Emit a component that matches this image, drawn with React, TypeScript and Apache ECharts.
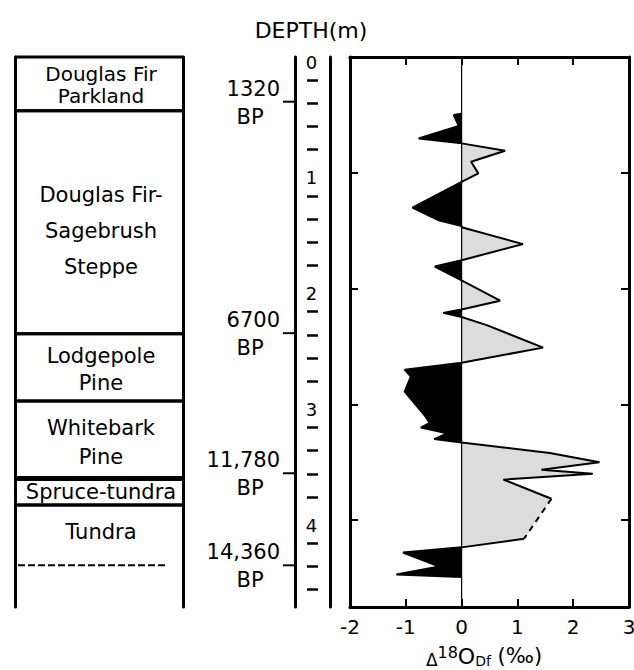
import React, { useEffect, useRef } from "react";
import * as echarts from "echarts";

// ---- Isotope curve (Δ18O_Df in ‰ versus depth in m) ----
const depthM = [
  0.489, 0.501, 0.596, 0.703, 0.746, 0.81, 0.905, 1.005, 1.078, 1.3, 1.41, 1.46,
  1.47, 1.616, 1.755, 1.81, 1.93, 2.105, 2.18, 2.21, 2.245, 2.316, 2.51, 2.64,
  2.7, 2.76, 2.89, 3.09, 3.16, 3.2, 3.25, 3.3, 3.33, 3.42, 3.5, 3.565, 3.6, 3.65,
  3.815, 4.16, 4.235, 4.28, 4.4, 4.47, 4.49,
];
const delta18O = [
  0, -0.14, -0.05, -0.77, 0, 0.78, 0.17, 0.3, 0, -0.88, -0.41, 0,
  0, 1.1, 0, -0.48, 0, 0.69, 0, -0.33, 0, 0.45, 1.46, 0,
  -1.02, -0.91, -1.02, -0.67, -0.57, -0.73, -0.26, -0.49, 0, 1.58, 2.47, 1.43, 2.35, 0.75,
  1.61, 1.12, 0, -1.05, -0.4, -1.17, 0,
];
// indices of the dashed (inferred) stretch of the curve
const dashedFrom = 38;
const dashedTo = 39;

// ---- Axis ranges ----
const deltaMin = -2;
const deltaMax = 3;
const depthMin = 0;
const depthMax = 4.75;

// ---- Depth scale labels ----
const depthLabels = [0, 1, 2, 3, 4];

// ---- Radiocarbon ages on the depth scale ----
const ageLabels = ["1320", "6700", "11,780", "14,360"];
const ageDepths = [0.386, 2.385, 3.595, 4.39];

// ---- Vegetation zones ----
const zoneNames = [
  "Douglas Fir\nParkland",
  "Douglas Fir-\nSagebrush\nSteppe",
  "Lodgepole\nPine",
  "Whitebark\nPine",
  "Spruce-tundra",
  "Tundra",
];
const zoneTop = [0, 0.465, 2.39, 2.97, 3.64, 3.87];
const zoneBottom = [0.465, 2.39, 2.97, 3.64, 3.87, 4.39];
const zoneDashedBottom = [false, false, false, false, false, true];

// styles (not data)
const zoneLineHeight = [22, 36, 27, 29, 22, 22];
const zoneTextNudge = [1, 9, 2, 3, 0, -3];
const FONT = "DejaVu Sans";
const INK = "#000";

type P = [number, number];

function buildFills(xs: number[], ys: number[]) {
  const polys: { pts: P[]; neg: boolean }[] = [];
  let cur: P[] = [];
  let sign = 0;
  const close = () => {
    if (cur.length >= 3 && sign !== 0) polys.push({ pts: cur, neg: sign < 0 });
  };
  for (let i = 0; i < xs.length; i++) {
    const x = xs[i];
    const y = ys[i];
    const s = Math.sign(x);
    if (i > 0) {
      const px = xs[i - 1];
      const py = ys[i - 1];
      const ps = Math.sign(px);
      if (ps !== 0 && s !== 0 && ps !== s) {
        const t = px / (px - x);
        const yc = py + t * (y - py);
        cur.push([0, yc]);
        close();
        cur = [[0, yc]];
        sign = s;
      }
    }
    if (s === 0) {
      cur.push([0, y]);
      close();
      cur = [[0, y]];
      sign = 0;
    } else {
      if (sign === 0) sign = s;
      if (cur.length === 0) cur.push([0, y]);
      cur.push([x, y]);
    }
  }
  if (cur.length) {
    cur.push([0, ys[ys.length - 1]]);
    close();
  }
  return polys;
}

const textStyle = (text: string, size: number, align: string, extra: any = {}) => ({
  text,
  align,
  verticalAlign: "middle",
  textAlign: align,
  textVerticalAlign: "middle",
  fontSize: size,
  fontFamily: FONT,
  fill: INK,
  ...extra,
});

export default function App() {
  const ref = useRef<HTMLDivElement>(null);

  useEffect(() => {
    if (!ref.current) return;
    const chart = echarts.init(ref.current, undefined, { renderer: "svg" });

    const pts: P[] = depthM.map((d, i) => [delta18O[i], d]);
    const solidA = pts.slice(0, dashedFrom + 1);
    const dashed = pts.slice(dashedFrom, dashedTo + 1);
    const solidB = pts.slice(dashedTo);
    const fills = buildFills(delta18O, depthM);

    const frameLine = { show: true, onZero: false, lineStyle: { color: INK, width: 3 } };
    const innerTick = { show: true, inside: true, length: 8, lineStyle: { color: INK, width: 2 } };

    const depthAxisBase = {
      type: "value",
      min: depthMin,
      max: depthMax,
      interval: 1,
      inverse: true,
      splitLine: { show: false },
      axisLabel: { show: false },
      axisTick: { show: false },
      axisLine: frameLine,
    };

    const option: any = {
      animation: false,
      backgroundColor: "#fff",
      grid: [
        { left: 350, top: 57, width: 279, height: 550, outerBoundsMode: "none" },
        { left: 295, top: 57, width: 35, height: 550, outerBoundsMode: "none" },
        { left: 15, top: 57, width: 168, height: 550, outerBoundsMode: "none" },
      ],
      xAxis: [
        {
          gridIndex: 0,
          type: "value",
          min: deltaMin,
          max: deltaMax,
          interval: 1,
          position: "bottom",
          axisLine: frameLine,
          axisTick: innerTick,
          splitLine: { show: false },
          axisLabel: {
            color: INK,
            fontSize: 20,
            fontFamily: FONT,
            margin: 10,
            showMinLabel: true,
            showMaxLabel: true,
          },
        },
        {
          gridIndex: 0,
          type: "value",
          min: deltaMin,
          max: deltaMax,
          interval: 1,
          position: "top",
          axisLine: frameLine,
          axisTick: innerTick,
          splitLine: { show: false },
          axisLabel: { show: false },
        },
        { gridIndex: 1, type: "value", min: 0, max: 1, show: false },
        { gridIndex: 2, type: "value", min: 0, max: 1, show: false },
      ],
      yAxis: [
        { ...depthAxisBase, gridIndex: 0, position: "left", axisTick: innerTick },
        { ...depthAxisBase, gridIndex: 0, position: "right", axisTick: innerTick },
        { ...depthAxisBase, gridIndex: 1, position: "left" },
        { ...depthAxisBase, gridIndex: 1, position: "right" },
        {
          ...depthAxisBase,
          gridIndex: 1,
          position: "left",
          offset: -12,
          axisLine: { show: false, onZero: false },
          axisTick: { show: false, inside: true },
          minorTick: { show: true, splitNumber: 5, length: 11, lineStyle: { color: INK, width: 2.5 } },
        },
        { ...depthAxisBase, gridIndex: 2, position: "left" },
        { ...depthAxisBase, gridIndex: 2, position: "right" },
      ],
      series: [
        {
          name: "fills",
          type: "custom",
          xAxisIndex: 0,
          yAxisIndex: 0,
          z: 1,
          data: fills.map((f) => f.pts[0]),
          renderItem: (params: any, api: any) => {
            const f = fills[params.dataIndex];
            const points = f.pts.map((p) => api.coord(p));
            return {
              type: "polygon",
              shape: { points },
              style: { fill: f.neg ? "#000" : "#dcdcdc", stroke: "none" },
            };
          },
        },
        {
          name: "zero",
          type: "line",
          xAxisIndex: 0,
          yAxisIndex: 0,
          z: 2,
          symbol: "none",
          data: [
            [0, depthMin],
            [0, depthMax],
          ],
          lineStyle: { color: INK, width: 1.2 },
        },
        {
          name: "curve",
          type: "line",
          xAxisIndex: 0,
          yAxisIndex: 0,
          z: 3,
          symbol: "none",
          data: solidA,
          lineStyle: { color: INK, width: 2 },
        },
        {
          name: "curveDashed",
          type: "line",
          xAxisIndex: 0,
          yAxisIndex: 0,
          z: 3,
          symbol: "none",
          data: dashed,
          lineStyle: { color: INK, width: 2, type: [6, 5] },
        },
        {
          name: "curveEnd",
          type: "line",
          xAxisIndex: 0,
          yAxisIndex: 0,
          z: 3,
          symbol: "none",
          data: solidB,
          lineStyle: { color: INK, width: 2 },
        },
        {
          name: "depthLabels",
          type: "custom",
          xAxisIndex: 2,
          yAxisIndex: 2,
          z: 3,
          data: depthLabels.map((d) => [0.5, d]),
          renderItem: (params: any, api: any) => {
            const d = depthLabels[params.dataIndex];
            const [x, y] = api.coord([0.5, d]);
            return {
              type: "text",
              x: x - 1,
              y: y + 5,
              style: textStyle(String(d), 18, "center"),
            };
          },
        },
        {
          name: "ages",
          type: "custom",
          xAxisIndex: 2,
          yAxisIndex: 2,
          z: 3,
          data: ageDepths.map((d) => [0, d]),
          renderItem: (params: any, api: any) => {
            const i = params.dataIndex;
            const [x, y] = api.coord([0, ageDepths[i]]);
            return {
              type: "group",
              children: [
                {
                  type: "line",
                  shape: { x1: x - 12, y1: y, x2: x, y2: y },
                  style: { stroke: INK, lineWidth: 2 },
                },
                { type: "text", x: x - 15, y: y - 13, style: textStyle(ageLabels[i], 21, "right") },
                { type: "text", x: x - 45, y: y + 15, style: textStyle("BP", 21, "center") },
              ],
            };
          },
        },
        {
          name: "zones",
          type: "custom",
          xAxisIndex: 3,
          yAxisIndex: 5,
          z: 3,
          data: zoneTop.map((d) => [0, d]),
          renderItem: (params: any, api: any) => {
            const i = params.dataIndex;
            const [xL, yT] = api.coord([0, zoneTop[i]]);
            const [xR, yB] = api.coord([1, zoneBottom[i]]);
            const children: any[] = [
              {
                type: "line",
                shape: { x1: xL, y1: yT, x2: xR, y2: yT },
                style: { stroke: INK, lineWidth: zoneNames[i] === "Spruce-tundra" ? 5 : 3 },
              },
              {
                type: "text",
                x: (xL + xR) / 2 + 2,
                y: (yT + yB) / 2 + zoneTextNudge[i],
                style: textStyle(zoneNames[i], i === 0 ? 20 : 21, "center", {
                  lineHeight: zoneLineHeight[i],
                }),
              },
            ];
            if (zoneDashedBottom[i]) {
              children.push({
                type: "line",
                shape: { x1: xL + 3, y1: yB, x2: xL + 153, y2: yB },
                style: { stroke: INK, lineWidth: 2, lineDash: [7, 3] },
              });
            } else {
              children.push({
                type: "line",
                shape: { x1: xL, y1: yB, x2: xR, y2: yB },
                style: { stroke: INK, lineWidth: 3 },
              });
            }
            return { type: "group", children };
          },
        },
      ],
      graphic: [
        {
          type: "text",
          x: 311,
          y: 30,
          style: textStyle("DEPTH(m)", 22, "center"),
        },
        {
          type: "text",
          x: 484,
          y: 656,
          style: {
            text: "{d|Δ}{s|18}{o|O}{b|Df}{n| (‰)}",
            align: "center",
            verticalAlign: "middle",
            textAlign: "center",
            textVerticalAlign: "middle",
            fill: INK,
            fontFamily: FONT,
            rich: {
              d: { fontSize: 17, fontFamily: FONT, lineHeight: 20, verticalAlign: "bottom", fill: INK },
              s: { fontSize: 16, fontFamily: FONT, lineHeight: 14, verticalAlign: "top", fill: INK },
              o: { fontSize: 22, fontFamily: FONT, lineHeight: 24, verticalAlign: "middle", fill: INK },
              b: { fontSize: 14, fontFamily: FONT, lineHeight: 14, verticalAlign: "bottom", fill: INK },
              n: { fontSize: 21, fontFamily: FONT, lineHeight: 24, verticalAlign: "middle", fill: INK },
            },
          },
        },
      ],
    };

    chart.setOption(option);
    return () => chart.dispose();
  }, []);

  return (
    <div
      ref={ref}
      style={{ position: "absolute", left: 0, top: 0, width: 634, height: 670 }}
    />
  );
}
